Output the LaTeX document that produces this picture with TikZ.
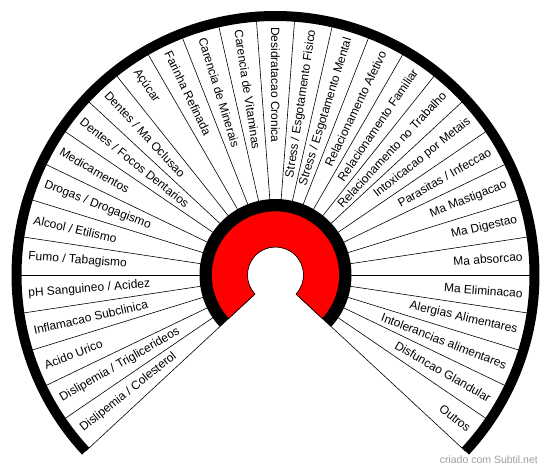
\documentclass[tikz,border=0pt]{standalone}
\usepackage{fontspec}
\setmainfont{Liberation Sans}
\begin{document}
\begin{tikzpicture}[x=1pt,y=1pt,
  lbl/.style={font=\fontsize{12}{12}\selectfont, inner sep=0pt},
  spoke/.style={line width=0.6pt, black},
  wmark/.style={font=\fontsize{10.5}{10.5}\selectfont, text=black!38, inner sep=0pt}]
\useasboundingbox[fill=white] (0,0) rectangle (550,472);
\def\dA{8.5714286}
\def\As{222.857143}
\def\Ae{-42.857143}
\begin{scope}[shift={(275.5,197)}]
  % radial spokes
  \foreach \k in {0,...,31}{
    \pgfmathsetmacro\a{\As-\k*\dA}
    \draw[spoke] (\a:28) -- (\a:259);
  }
  % outer black arc
  \fill[black] (\As:264) arc[start angle=\As, end angle=\Ae, radius=264]
     -- (\Ae:254) arc[start angle=\Ae, end angle=\As, radius=254] -- cycle;
  % black ring
  \fill[black] (\As:28) -- (\As:76) arc[start angle=\As, end angle=\Ae, radius=76]
     -- (\Ae:28) arc[start angle=\Ae, end angle=\As, radius=28] -- cycle;
  % red ring
  \filldraw[fill=red, draw=black, line width=0.6pt] (\As:28) -- (\As:64) arc[start angle=\As, end angle=\Ae, radius=64]
     -- (\Ae:28) arc[start angle=\Ae, end angle=\As, radius=28] -- cycle;
  % labels
  \foreach \t [count=\k] in {
    Dislipemia / Colesterol, Dislipemia / Triglicerideos, Acido Urico,
    Inflamacao Subclinica, pH Sanguineo / Acidez, Fumo / Tabagismo,
    Alcool / Etilismo, Drogas / Drogagismo, Medicamentos,
    Dentes / Focos Dentarios, Dentes / Ma Oclusao, Açúcar,
    Farinha Refinada, Carencia de Minerais, Carencia de Vitaminas,
    Desidratacao Cronica, Stress / Esgotamento Fisico,
    Stress / Esgotamento Mental, Relacionamento Afetivo,
    Relacionamento Familiar, Relacionamento no Trabalho,
    Intoxicacao por Metais, Parasitas / Infeccao, Ma Mastigacao,
    Ma Digestao, Ma absorcao, Ma Eliminacao, Alergias Alimentares,
    Intolerancias alimentares, Disfuncao Glandular, Outros}{
    \pgfmathsetmacro\m{\As-(\k-0.5)*\dA}
    \pgfmathparse{\m>89.9 ? 1 : 0}
    \ifnum\pgfmathresult=1
      \pgfmathsetmacro\r{\m-180}
      \node[lbl, anchor=west, rotate=\r] (L\k) at (\m:248) {\t};
    \else
      \node[lbl, anchor=east, rotate=\m] (L\k) at (\m:248) {\t};
    \fi
  }
\end{scope}
\node[wmark, anchor=east] (wm) at (538,12) {criado com Subtil.net};
\end{tikzpicture}
\end{document}
